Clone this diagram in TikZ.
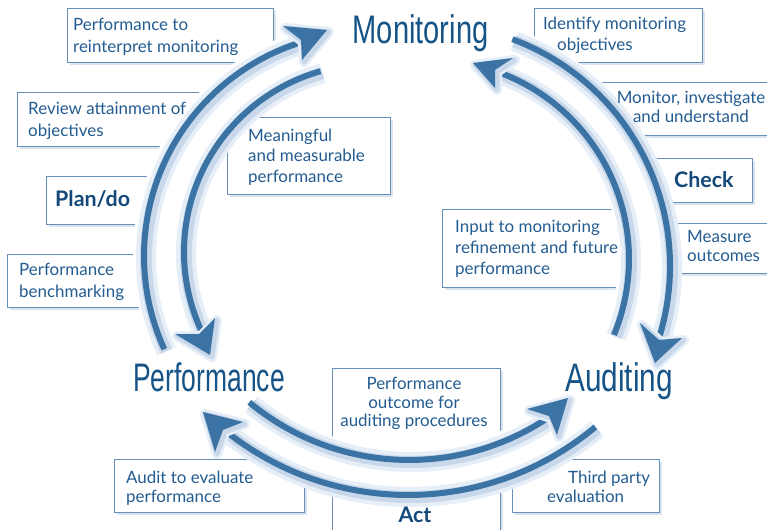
\documentclass[tikz,border=0pt]{standalone}
\usepackage{fontspec}
\setmainfont{Lato}
\newfontfamily\bigfont{Liberation Sans}
\usetikzlibrary{calc,shadows}
\definecolor{arcblue}{RGB}{59,115,165}
\definecolor{txtblue}{RGB}{35,92,145}
\definecolor{bigblue}{RGB}{22,84,135}
\definecolor{boldblue}{RGB}{21,73,122}
\definecolor{frameblue}{RGB}{100,143,186}
\definecolor{glowlight}{RGB}{230,238,247}
\definecolor{glowblue}{RGB}{200,216,234}
\definecolor{shadowblue}{RGB}{165,188,212}
\begin{document}
\begin{tikzpicture}[x=1bp,y=-1bp,
  frame/.style={draw=frameblue, line width=0.8bp, fill=white, inner sep=0pt, anchor=north west,
    drop shadow={shadow xshift=3bp, shadow yshift=-3bp, fill=shadowblue, opacity=0.4}},
  txt/.style={text=txtblue, font=\fontsize{17}{22}\selectfont, inner sep=0pt, align=left},
  txts/.style={txt, font=\fontsize{17}{19}\selectfont},
  big/.style={text=bigblue, font=\bigfont\fontsize{40}{40}\selectfont, inner sep=0pt, anchor=base},
  boldlbl/.style={text=boldblue, font=\bfseries\fontsize{21.5}{21.5}\selectfont, inner sep=0pt},
  band/.style={fill=white},
  arcline/.style={draw=arcblue, line width=6bp,
    preaction={draw=white, line width=22bp},
    preaction={draw=glowlight, line width=20bp, transform canvas={xshift=2bp, yshift=-2bp}},
    preaction={draw=glowblue, line width=12bp, transform canvas={xshift=2bp, yshift=-2bp}}},
  arrowhead/.style={fill=arcblue,
    preaction={draw=glowlight, line width=10bp, line join=round, transform canvas={xshift=2bp, yshift=-2bp}},
    preaction={draw=glowblue, line width=5bp, line join=round, transform canvas={xshift=2bp, yshift=-2bp}}}]
\useasboundingbox (0,0) rectangle (767,530);

% frames
\node[frame, minimum width=206bp, minimum height=54bp] (f1) at (67,8) {};
\node[frame, minimum width=203bp, minimum height=54bp] (f2) at (17,92) {};
\node[frame, minimum width=114bp, minimum height=48bp] (f3) at (46,176) {};
\node[frame, minimum width=163bp, minimum height=77bp] (f4) at (227,117) {};
\node[frame, minimum width=153bp, minimum height=53bp] (f5) at (7,254) {};
\node[frame, minimum width=168bp, minimum height=54bp] (f6) at (534,8) {};
\node[frame, minimum width=195bp, minimum height=53bp] (f7) at (585,82) {};
\node[frame, minimum width=104bp, minimum height=44bp] (f8) at (648,158) {};
\node[frame, minimum width=125bp, minimum height=50bp] (f9) at (655,223) {};
\node[frame, minimum width=198bp, minimum height=78bp] (f10) at (442,209) {};
\node[frame, minimum width=168bp, minimum height=177bp] (f11) at (332,368) {};
\node[frame, minimum width=190bp, minimum height=53bp] (f12) at (114,459) {};
\node[frame, minimum width=147bp, minimum height=53bp] (f13) at (512,459) {};

% arc start points
\coordinate (A0) at ($(368,256)+(155.4:224)$);
\coordinate (B0) at ($(372,252)+(254.1:188)$);
\coordinate (C0) at ($(428,266)+(-69.6:242)$);
\coordinate (D0) at ($(430,259)+(22.4:199)$);
\coordinate (E0) at ($(409,210)+(129.7:250)$);
\coordinate (F0) at ($(408,203)+(50.1:292)$);

% white bands between arc pairs
\fill[band] (A0) arc[start angle=155.4, end angle=252.8, radius=224] -- (B0)
  arc[start angle=254.1, end angle=154.6, radius=188] -- cycle;
\fill[band] (C0) arc[start angle=-69.6, end angle=17.5, radius=242] -- (D0)
  arc[start angle=22.4, end angle=-70.9, radius=199] -- cycle;
\fill[band] (E0) arc[start angle=129.7, end angle=55.9, radius=250] -- (F0)
  arc[start angle=50.1, end angle=129.2, radius=292] -- cycle;

% arcs
\draw[arcline] (A0) arc[start angle=155.4, end angle=252.8, radius=224];
\draw[arcline] (B0) arc[start angle=254.1, end angle=154.6, radius=188];
\draw[arcline] (C0) arc[start angle=-69.6, end angle=17.5, radius=242];
\draw[arcline] (D0) arc[start angle=22.4, end angle=-70.9, radius=199];
\draw[arcline] (E0) arc[start angle=129.7, end angle=55.9, radius=250];
\draw[arcline] (F0) arc[start angle=50.1, end angle=129.2, radius=292];

% arrowheads
\fill[arrowhead] (327,30) -- (283,26) -- (301,40) -- (302,60) -- cycle;
\fill[arrowhead] (210,355) -- (175,334) -- (199,334) -- (215,318) -- cycle;
\fill[arrowhead] (655,363) -- (640,323) -- (659,340) -- (682,338) -- cycle;
\fill[arrowhead] (473,63) -- (513,58) -- (495,70) -- (495,88) -- cycle;
\fill[arrowhead] (568,398) -- (527,409) -- (549,416) -- (557,435) -- cycle;
\fill[arrowhead] (203,412) -- (243,422) -- (223,430) -- (215,452) -- cycle;

% big labels
\node[big] (mon) at (420.5,44) {\scalebox{0.73}[1]{Monitoring}};
\node[big] (perf) at (209,391) {\scalebox{0.664}[1]{Performance}};
\node[big] (aud) at (619,391) {\scalebox{0.747}[1]{Auditing}};

% bold labels
\node[boldlbl, anchor=base west] (plan) at (55,207) {Plan/do};
\node[boldlbl, anchor=base west] (check) at (674,188) {Check};
\node[boldlbl, anchor=base] (act) at (415,522) {Act};

% box texts
\node[txt, anchor=north west] (t1) at (73,17.6) {Performance to\\reinterpret monitoring};
\node[txt, anchor=north west] (t2) at (28,101.6) {Review attainment of\\objectives};
\node[txt, anchor=north west, font=\fontsize{17}{20.5}\selectfont] (t4) at (248,128.6) {Meaningful\\and measurable\\performance};
\node[txt, anchor=north west] (t5) at (19,262.6) {Performance\\benchmarking};
\node[txt, anchor=north west, font=\fontsize{17}{21}\selectfont] (t6) at (543,16.6) {Identify monitoring\\\hspace*{14bp}objectives};
\node[txts, anchor=north, align=center] (t7) at (691,90.6) {Monitor, investigate\\and understand};
\node[txts, anchor=north west] (t9) at (687,230.6) {Measure\\outcomes};
\node[txt, anchor=north west, font=\fontsize{17}{21.5}\selectfont] (t10) at (455,219.6) {Input to monitoring\\refinement and future\\performance};
\node[txts, anchor=north, align=center] (t11) at (414,376.6) {Performance\\outcome for\\auditing procedures};
\node[txts, anchor=north west] (t12) at (126,470.6) {Audit to evaluate\\performance};
\node[txts, anchor=north west] (t13) at (547,470.6) {\hspace*{21bp}Third party\\evaluation};
\end{tikzpicture}
\end{document}
